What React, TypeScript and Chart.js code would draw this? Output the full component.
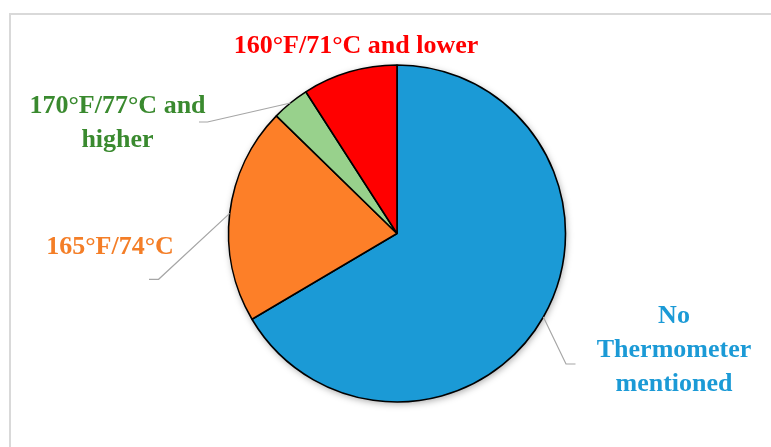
import React, { useEffect, useRef } from "react";
import { Chart, registerables } from "chart.js";

Chart.register(...registerables);

const categories = [
  "No Thermometer mentioned",
  "165°F/74°C",
  "170°F/77°C and higher",
  "160°F/71°C and lower",
];
const shares = [66.5, 20.8, 3.6, 9.1];
const sliceColors = ["#1b9ad6", "#fd7f28", "#98d18c", "#ff0000"];
const textColors = ["#1b9ad6", "#f47e27", "#3a8a2f", "#ff0000"];
const labelLines = [
  ["No", "Thermometer", "mentioned"],
  ["165°F/74°C"],
  ["170°F/77°C and", "higher"],
  ["160°F/71°C and lower"],
];

// label layout (offsets from pie center): text center x, first baseline y, elbow point, leader end x
const labelLayout = [
  { tx: 277, ty: 89, elbow: [169, 130.5], endX: 178.5, leader: true },
  { tx: -287, ty: 20.5, elbow: [-238.4, 45.8], endX: -248, leader: true },
  { tx: -279.5, ty: -120.5, elbow: [-189.5, -111.5], endX: -198, leader: true },
  { tx: -41, ty: -180.5, elbow: [0, 0], endX: 0, leader: false },
];

const FONT = "bold 26px 'Liberation Serif', 'Times New Roman', serif";
const LINE_H = 34;

const shadowPlugin = {
  id: "pieShadow",
  beforeDatasetsDraw(chart: any) {
    const arc = chart.getDatasetMeta(0).data[0];
    if (!arc) return;
    const { x, y, outerRadius } = arc.getProps(["x", "y", "outerRadius"], true);
    const ctx = chart.ctx;
    ctx.save();
    ctx.shadowColor = "rgba(0,0,0,0.35)";
    ctx.shadowBlur = 7;
    ctx.shadowOffsetX = 1;
    ctx.shadowOffsetY = 2;
    ctx.fillStyle = "#ffffff";
    ctx.beginPath();
    ctx.arc(x, y, outerRadius, 0, Math.PI * 2);
    ctx.fill();
    ctx.restore();
  },
};

const labelPlugin = {
  id: "pieLabels",
  afterDatasetsDraw(chart: any) {
    const meta = chart.getDatasetMeta(0);
    const ctx = chart.ctx;
    ctx.save();
    meta.data.forEach((arc: any, i: number) => {
      const { x, y, startAngle, endAngle, outerRadius } = arc.getProps(
        ["x", "y", "startAngle", "endAngle", "outerRadius"],
        true
      );
      const lay = labelLayout[i];
      if (lay.leader) {
        const mid = (startAngle + endAngle) / 2;
        const sx = x + Math.cos(mid) * outerRadius;
        const sy = y + Math.sin(mid) * outerRadius;
        ctx.strokeStyle = "#a6a6a6";
        ctx.lineWidth = 1.2;
        ctx.beginPath();
        ctx.moveTo(sx, sy);
        ctx.lineTo(x + lay.elbow[0], y + lay.elbow[1]);
        ctx.lineTo(x + lay.endX, y + lay.elbow[1]);
        ctx.stroke();
      }
      ctx.font = FONT;
      ctx.fillStyle = textColors[i];
      ctx.textAlign = "center";
      ctx.textBaseline = "alphabetic";
      labelLines[i].forEach((line, j) => {
        ctx.fillText(line, x + lay.tx, y + lay.ty + j * LINE_H);
      });
    });
    ctx.restore();
  },
};

export default function App() {
  const ref = useRef<HTMLCanvasElement | null>(null);
  useEffect(() => {
    if (!ref.current) return;
    const chart = new Chart(ref.current, {
      type: "pie",
      data: {
        labels: categories,
        datasets: [
          {
            data: shares,
            backgroundColor: sliceColors,
            borderColor: "#000000",
            borderWidth: 1.6,
            radius: 168.5,
          } as any,
        ],
      },
      options: {
        animation: false,
        responsive: true,
        maintainAspectRatio: false,
        layout: { padding: { left: 23, right: 0, top: 20, bottom: 0 } },
        plugins: {
          legend: { display: false },
          tooltip: { enabled: false },
        },
      },
      plugins: [shadowPlugin, labelPlugin],
    });
    return () => chart.destroy();
  }, []);
  return (
    <div
      style={{
        position: "fixed",
        left: 0,
        top: 0,
        width: 771,
        height: 447,
        background: "#ffffff",
        overflow: "hidden",
      }}
    >
      <div
        style={{
          position: "absolute",
          left: 9,
          top: 13,
          width: 800,
          height: 500,
          borderLeft: "2px solid #d9d9d9",
          borderTop: "2px solid #d9d9d9",
        }}
      />
      <canvas ref={ref} style={{ position: "absolute", left: 0, top: 0 }} width={771} height={447} />
    </div>
  );
}
